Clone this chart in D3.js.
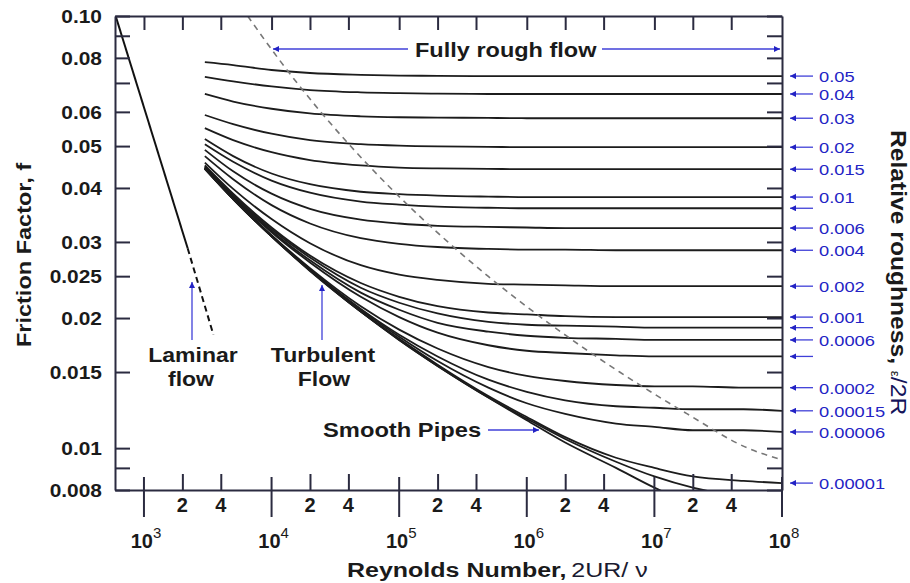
<!DOCTYPE html>
<html>
<head>
<meta charset="utf-8">
<script src="https://cdn.jsdelivr.net/npm/d3@7"></script>
<style>
  body { margin: 0; background: #fff; }
  text { font-family: "Liberation Sans", Arial, sans-serif; }
</style>
</head>
<body>
<svg id="chart" width="910" height="583"></svg>
<script>
// Reynolds numbers where each roughness curve was read off the chart
const reGrid = [3e3, 5e3, 1e4, 2e4, 5e4, 1e5, 2e5, 5e5, 1e6, 2e6, 5e6, 1e7, 2e7, 5e7, 1e8];

// friction factor for each relative roughness
const f_05 = [0.0782, 0.0770, 0.0750, 0.0738, 0.0731, 0.0728, 0.0727, 0.0726, 0.0726, 0.0726, 0.0726, 0.0726, 0.0726, 0.0726, 0.0726];
const f_04 = [0.0723, 0.0706, 0.0687, 0.0674, 0.0666, 0.0663, 0.0661, 0.0660, 0.0660, 0.0660, 0.0660, 0.0660, 0.0660, 0.0660, 0.0660];
const f_03 = [0.0660, 0.0634, 0.0610, 0.0595, 0.0586, 0.0583, 0.0582, 0.0581, 0.0580, 0.0580, 0.0580, 0.0580, 0.0580, 0.0580, 0.0580];
const f_02 = [0.0590, 0.0562, 0.0534, 0.0516, 0.0505, 0.0501, 0.0499, 0.0498, 0.0497, 0.0497, 0.0497, 0.0497, 0.0497, 0.0497, 0.0497];
const f_015 = [0.0550, 0.0516, 0.0484, 0.0464, 0.0451, 0.0446, 0.0444, 0.0443, 0.0442, 0.0442, 0.0442, 0.0442, 0.0442, 0.0442, 0.0442];
const f_01 = [0.0519, 0.0474, 0.0432, 0.0408, 0.0392, 0.0387, 0.0384, 0.0382, 0.0381, 0.0381, 0.0381, 0.0381, 0.0381, 0.0381, 0.0381];
const f_008 = [0.0505, 0.0460, 0.0416, 0.0390, 0.0372, 0.0366, 0.0362, 0.0360, 0.0359, 0.0359, 0.0359, 0.0359, 0.0359, 0.0359, 0.0359];
const f_006 = [0.0490, 0.0437, 0.0388, 0.0358, 0.0338, 0.0331, 0.0327, 0.0325, 0.0324, 0.0323, 0.0323, 0.0323, 0.0323, 0.0323, 0.0323];
const f_004 = [0.0474, 0.0419, 0.0365, 0.0331, 0.0306, 0.0297, 0.0292, 0.0289, 0.0288, 0.0288, 0.0287, 0.0287, 0.0287, 0.0287, 0.0287];
const f_002 = [0.0458, 0.0398, 0.0339, 0.0298, 0.0265, 0.0252, 0.0245, 0.0240, 0.0239, 0.0238, 0.0237, 0.0237, 0.0237, 0.0237, 0.0237];
const f_001 = [0.0451, 0.0388, 0.0324, 0.0279, 0.0241, 0.0224, 0.0213, 0.0206, 0.0204, 0.0202, 0.0201, 0.0201, 0.0201, 0.0201, 0.0201];
const f_0008 = [0.0449, 0.0385, 0.0321, 0.0276, 0.0235, 0.0217, 0.0205, 0.0196, 0.0193, 0.0192, 0.0191, 0.0190, 0.0190, 0.0190, 0.0190];
const f_0006 = [0.0448, 0.0383, 0.0318, 0.0272, 0.0229, 0.0209, 0.0195, 0.0186, 0.0182, 0.0180, 0.0179, 0.0178, 0.0178, 0.0178, 0.0178];
const f_0004 = [0.0446, 0.0381, 0.0316, 0.0269, 0.0224, 0.0201, 0.0185, 0.0173, 0.0168, 0.0166, 0.0164, 0.0163, 0.0163, 0.0163, 0.0163];
const f_0002 = [0.0445, 0.0379, 0.0311, 0.0261, 0.0213, 0.0188, 0.0170, 0.0154, 0.0147, 0.0143, 0.0140, 0.0139, 0.0139, 0.0138, 0.0138];
const f_00015 = [0.0444, 0.0378, 0.0310, 0.0259, 0.0210, 0.0183, 0.0163, 0.0144, 0.0135, 0.0129, 0.0125, 0.0124, 0.0123, 0.0123, 0.0122];
const f_00006 = [0.0444, 0.0378, 0.0309, 0.0258, 0.0209, 0.0181, 0.0159, 0.0138, 0.0127, 0.0120, 0.0114, 0.0112, 0.0110, 0.0110, 0.0109];
const f_00001 = [0.0444, 0.0377, 0.0309, 0.0258, 0.0207, 0.0179, 0.0156, 0.0132, 0.0118, 0.0106, 0.0095, 0.0090, 0.0086, 0.0084, 0.0083];
const f_000005 = [0.0443, 0.0377, 0.0309, 0.0258, 0.0207, 0.0178, 0.0155, 0.0131, 0.0117, 0.0105, 0.0093, 0.0086, 0.0081, 0.0077, null];
const f_smooth = [0.0443, 0.0377, 0.0309, 0.0257, 0.0207, 0.0178, 0.0155, 0.0131, 0.0116, 0.0103, 0.0090, 0.0081, 0.0074, null, null];

const curves = [f_05, f_04, f_03, f_02, f_015, f_01, f_008, f_006, f_004, f_002, f_001,
                f_0008, f_0006, f_0004, f_0002, f_00015, f_00006, f_00001, f_000005, f_smooth];
// labels on the right ("" = arrow only, null = no arrow)
const roughLabels = ["0.05", "0.04", "0.03", "0.02", "0.015", "0.01", "", "0.006", "0.004", "0.002", "0.001",
                     "", "0.0006", "", "0.0002", "0.00015", "0.00006", "0.00001", null, null];

// laminar line f = 64/Re, solid then dashed through the transition
const laminarRe = [600, 2200];
const laminarF = [0.1, 0.029];
const transRe = [2200, 3500];
const transF = [0.029, 0.0183];

// dashed border of the fully rough zone
const boundaryRe = [6500, 11200, 24250, 41600, 85500, 240600, 496700, 1.313e6, 5.34e6, 1.81e7, 5.4e7, 1e8];
const boundaryF = [0.1, 0.08, 0.06, 0.05, 0.04, 0.03, 0.025, 0.02, 0.015, 0.012, 0.01, 0.0094];

// axis ticks
const fTicks = [0.1, 0.09, 0.08, 0.07, 0.06, 0.05, 0.04, 0.03, 0.025, 0.02, 0.015, 0.01, 0.009, 0.008];
const fTickLabels = ["0.10", "", "0.08", "", "0.06", "0.05", "0.04", "0.03", "0.025", "0.02", "0.015", "0.01", "", "0.008"];
const decades = [1e3, 1e4, 1e5, 1e6, 1e7, 1e8];
const decadeExp = ["3", "4", "5", "6", "7", "8"];
const minorTicks = [2e3, 4e3, 2e4, 4e4, 2e5, 4e5, 2e6, 4e6, 2e7, 4e7];
const minorLabels = ["2", "4", "2", "4", "2", "4", "2", "4", "2", "4"];
const topTicks = [1e3, 2e3, 4e3, 1e4, 2e4, 4e4, 1e5, 2e5, 4e5, 1e6, 2e6, 4e6, 1e7, 2e7, 4e7];

const axisColor = "#2b2b40";
const blue = "#2323c4";
const arrowBlue = "#4040d8";

const svg = d3.select("#chart");
const x = d3.scaleLog().domain([593, 1e8]).range([115, 782]);
const y = d3.scaleLog().domain([0.008, 0.1]).range([490, 16]);

const defs = svg.append("defs");
defs.append("clipPath").attr("id", "plotClip")
    .append("rect").attr("x", 115).attr("y", 16).attr("width", 667).attr("height", 474);
defs.append("marker")
    .attr("id", "arrowHead")
    .attr("viewBox", "0 0 10 10")
    .attr("refX", 10).attr("refY", 5)
    .attr("markerWidth", 9).attr("markerHeight", 6)
    .attr("markerUnits", "userSpaceOnUse")
    .attr("orient", "auto")
    .append("path").attr("d", "M0,0L10,5L0,10Z").attr("fill", blue);

// text helper, the chart's lettering is a bit wide so stretch it horizontally
const addText = (x0, y0, str, size, opts = {}) => {
    const t = svg.append("text")
        .attr("transform", `translate(${x0},${y0})${opts.rotate ? ` rotate(${opts.rotate})` : ""} scale(${opts.sx || 1},1)`)
        .attr("font-size", size)
        .attr("font-weight", opts.weight || "bold")
        .attr("fill", opts.color || "#1a1a1a")
        .attr("text-anchor", opts.anchor || "start")
        .text(str);
    return t;
};

const plot = svg.append("g").attr("clip-path", "url(#plotClip)");

// roughness curves
const line = d3.line()
    .defined(d => d[1] != null)
    .x(d => x(d[0]))
    .y(d => y(d[1]))
    .curve(d3.curveMonotoneX);

curves.forEach(vals => {
    const pts = reGrid.map((re, i) => [re, vals[i]]);
    plot.append("path")
        .attr("d", line(pts))
        .attr("fill", "none")
        .attr("stroke", "#1c1c1c")
        .attr("stroke-width", 1.8);
});

// laminar + transition
const straight = d3.line().x(d => x(d[0])).y(d => y(d[1]));
plot.append("path")
    .attr("d", straight(laminarRe.map((r, i) => [r, laminarF[i]])))
    .attr("stroke", "#111").attr("stroke-width", 2).attr("fill", "none");
plot.append("path")
    .attr("d", straight(transRe.map((r, i) => [r, transF[i]])))
    .attr("stroke", "#111").attr("stroke-width", 2).attr("fill", "none")
    .attr("stroke-dasharray", "6,4");

// fully rough boundary
plot.append("path")
    .attr("d", line(boundaryRe.map((r, i) => [r, boundaryF[i]])))
    .attr("fill", "none")
    .attr("stroke", "#777")
    .attr("stroke-width", 1.6)
    .attr("stroke-dasharray", "6,5");

// axes
const styleAxis = g => {
    g.selectAll("path").attr("stroke", axisColor).attr("stroke-width", 2);
    g.selectAll("line").attr("stroke", axisColor).attr("stroke-width", 2);
    g.selectAll("text").remove();
};

svg.append("g").attr("transform", "translate(0,16)")
    .call(d3.axisTop(x).tickValues(topTicks).tickSizeInner(-14).tickSizeOuter(0).tickFormat(""))
    .call(styleAxis);
svg.append("g").attr("transform", "translate(115,0)")
    .call(d3.axisLeft(y).tickValues(fTicks).tickSizeInner(-15).tickSizeOuter(0).tickFormat(""))
    .call(styleAxis);
svg.append("g").attr("transform", "translate(782,0)")
    .call(d3.axisRight(y).tickValues(fTicks).tickSizeInner(-15).tickSizeOuter(0).tickFormat(""))
    .call(styleAxis);
svg.append("g").attr("transform", "translate(0,490)")
    .call(d3.axisBottom(x).tickValues(minorTicks).tickSizeInner(-16).tickSizeOuter(0).tickFormat(""))
    .call(styleAxis);

// long decade ticks through the bottom axis
svg.append("g").selectAll("line")
    .data(decades)
    .join("line")
    .attr("x1", d => x(d)).attr("x2", d => x(d))
    .attr("y1", 477).attr("y2", 517)
    .attr("stroke", axisColor).attr("stroke-width", 2);

// left tick labels
fTicks.forEach((v, i) => {
    if (fTickLabels[i]) addText(102, y(v) + 7, fTickLabels[i], 19, { anchor: "end", sx: 1.1 });
});

// bottom tick labels
minorTicks.forEach((v, i) => addText(x(v), 512, minorLabels[i], 20, { anchor: "middle" }));
decades.forEach((v, i) => {
    const t = svg.append("text")
        .attr("x", x(v) + 2).attr("y", 548)
        .attr("text-anchor", "middle")
        .attr("fill", "#1a1a1a");
    t.append("tspan").attr("font-size", 20).attr("font-weight", "bold").text("10");
    t.append("tspan").attr("font-size", 15).attr("dy", -10).text(decadeExp[i]);
});

// axis titles
addText(31, 255, "Friction Factor, f", 21, { anchor: "middle", rotate: -90, sx: 1.12 });
const xt = svg.append("text")
    .attr("transform", "translate(347,577) scale(1.25,1)")
    .attr("font-size", 20).attr("fill", "#1a1a1a");
xt.append("tspan").attr("font-weight", "bold").text("Reynolds Number,");
xt.append("tspan").attr("dx", 4).attr("fill", "#1a1a30").text("2UR/ ν");

const rt = svg.append("text")
    .attr("transform", "translate(891,130) rotate(90) scale(1.12,1)")
    .attr("font-size", 22).attr("fill", "#1a1a1a");
rt.append("tspan").attr("font-weight", "bold").text("Relative roughness, ");
rt.append("tspan").attr("font-size", 12).text("ε");
rt.append("tspan").attr("fill", "#14145a").text("/2R");

// blue arrows and roughness labels on the right
curves.forEach((vals, i) => {
    if (roughLabels[i] == null) return;
    const last = vals.filter(v => v != null).pop();
    const yy = y(last);
    svg.append("line")
        .attr("x1", 813).attr("x2", 790).attr("y1", yy).attr("y2", yy)
        .attr("stroke", arrowBlue).attr("stroke-width", 1.3)
        .attr("marker-end", "url(#arrowHead)");
    if (roughLabels[i]) addText(819, yy + 6, roughLabels[i], 15.5, { weight: "normal", color: blue, sx: 1.18 });
});

// annotations
const arrow = (x1, y1, x2, y2) => svg.append("line")
    .attr("x1", x1).attr("y1", y1).attr("x2", x2).attr("y2", y2)
    .attr("stroke", arrowBlue).attr("stroke-width", 1.3)
    .attr("marker-end", "url(#arrowHead)");

arrow(408, 49, 273, 49);
arrow(602, 49, 780, 49);
addText(415, 57, "Fully rough flow", 21, { sx: 1.12 });

arrow(192, 340, 192, 282);
addText(193, 362, "Laminar", 20, { anchor: "middle", sx: 1.15 });
addText(191, 386, "flow", 20, { anchor: "middle", sx: 1.15 });

arrow(322, 340, 322, 285);
addText(323, 362, "Turbulent", 20, { anchor: "middle", sx: 1.15 });
addText(324, 386, "Flow", 20, { anchor: "middle", sx: 1.15 });

addText(323, 437, "Smooth Pipes", 21, { sx: 1.13 });
arrow(488, 430, 539, 430);
</script>
</body>
</html>
